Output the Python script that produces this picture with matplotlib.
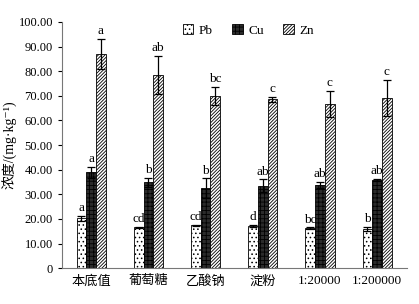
import numpy as np
import matplotlib
matplotlib.use("Agg")
import matplotlib.pyplot as plt

plt.rcParams['font.family'] = ['Liberation Serif', 'Noto Sans CJK SC', 'DejaVu Serif']
plt.rcParams['hatch.linewidth'] = 0.6

categories = ['本底值', '葡萄糖', '乙酸钠', '淀粉', '1:20000', '1:200000']
pb = [20.2, 16.5, 17.4, 17.1, 16.2, 15.9]
pb_err = [1.0, 0.2, 0.2, 0.3, 0.3, 0.7]
cu = [38.9, 34.8, 32.4, 33.5, 33.9, 35.8]
cu_err = [2.3, 1.8, 4.0, 2.5, 1.2, 0.3]
zn = [86.9, 78.3, 69.9, 68.6, 66.5, 69.0]
zn_err = [6.2, 7.7, 3.5, 1.0, 5.3, 7.4]
pb_letters = ['a', 'cd', 'cd', 'd', 'bc', 'b']
cu_letters = ['a', 'b', 'b', 'ab', 'ab', 'ab']
zn_letters = ['a', 'ab', 'bc', 'c', 'c', 'c']

fig = plt.figure(figsize=(4.19, 3.04), dpi=100)
ax = fig.add_axes([0.148, 0.118, 0.823, 0.81])

x = np.arange(len(categories))
w = 0.17
series = [
    (pb, pb_err, pb_letters, 'Pb', 'white', '....'),
    (cu, cu_err, cu_letters, 'Cu', '#2b2b2b', '++++'),
    (zn, zn_err, zn_letters, 'Zn', 'white', '//////////'),
]
for i, (vals, errs, letters, name, fc, hatch) in enumerate(series):
    pos = x + (i - 1) * w
    ax.bar(pos, vals, w, color=fc, edgecolor='black', hatch=hatch,
           linewidth=0.6, label=name)
    ax.errorbar(pos, vals, yerr=errs, fmt='none', ecolor='black',
                elinewidth=0.9, capsize=3, capthick=0.9)
    for p, v, e, t in zip(pos, vals, errs, letters):
        ax.text(p, v + e + 0.8, t, ha='center', va='bottom', fontsize=9.5)

ax.set_xlim(-0.51, 5.52)
ax.set_ylim(0, 100)
ax.set_yticks(np.arange(0, 101, 10))
ax.set_yticklabels(['0'] + ['%.2f' % v for v in range(10, 101, 10)])
ax.set_xticks(x)
ax.set_xticklabels(categories)
ax.tick_params(axis='x', length=0, labelsize=9.5, pad=5)
ax.tick_params(axis='y', direction='out', length=3, labelsize=9, width=0.8)
ax.spines['top'].set_visible(False)
ax.spines['right'].set_visible(False)
ax.spines['left'].set_color('#777777')
ax.spines['bottom'].set_color('#777777')
ax.set_ylabel('浓度/(mg·kg⁻¹)', fontsize=10)
ax.yaxis.set_label_coords(-0.13, 0.5)

ax.legend(loc='upper center', bbox_to_anchor=(0.54, 1.04), ncol=3, frameon=False,
          fontsize=9.5, handlelength=0.8, handleheight=0.8, columnspacing=1.5,
          handletextpad=0.4)

fig.savefig('out.png', dpi=100)
